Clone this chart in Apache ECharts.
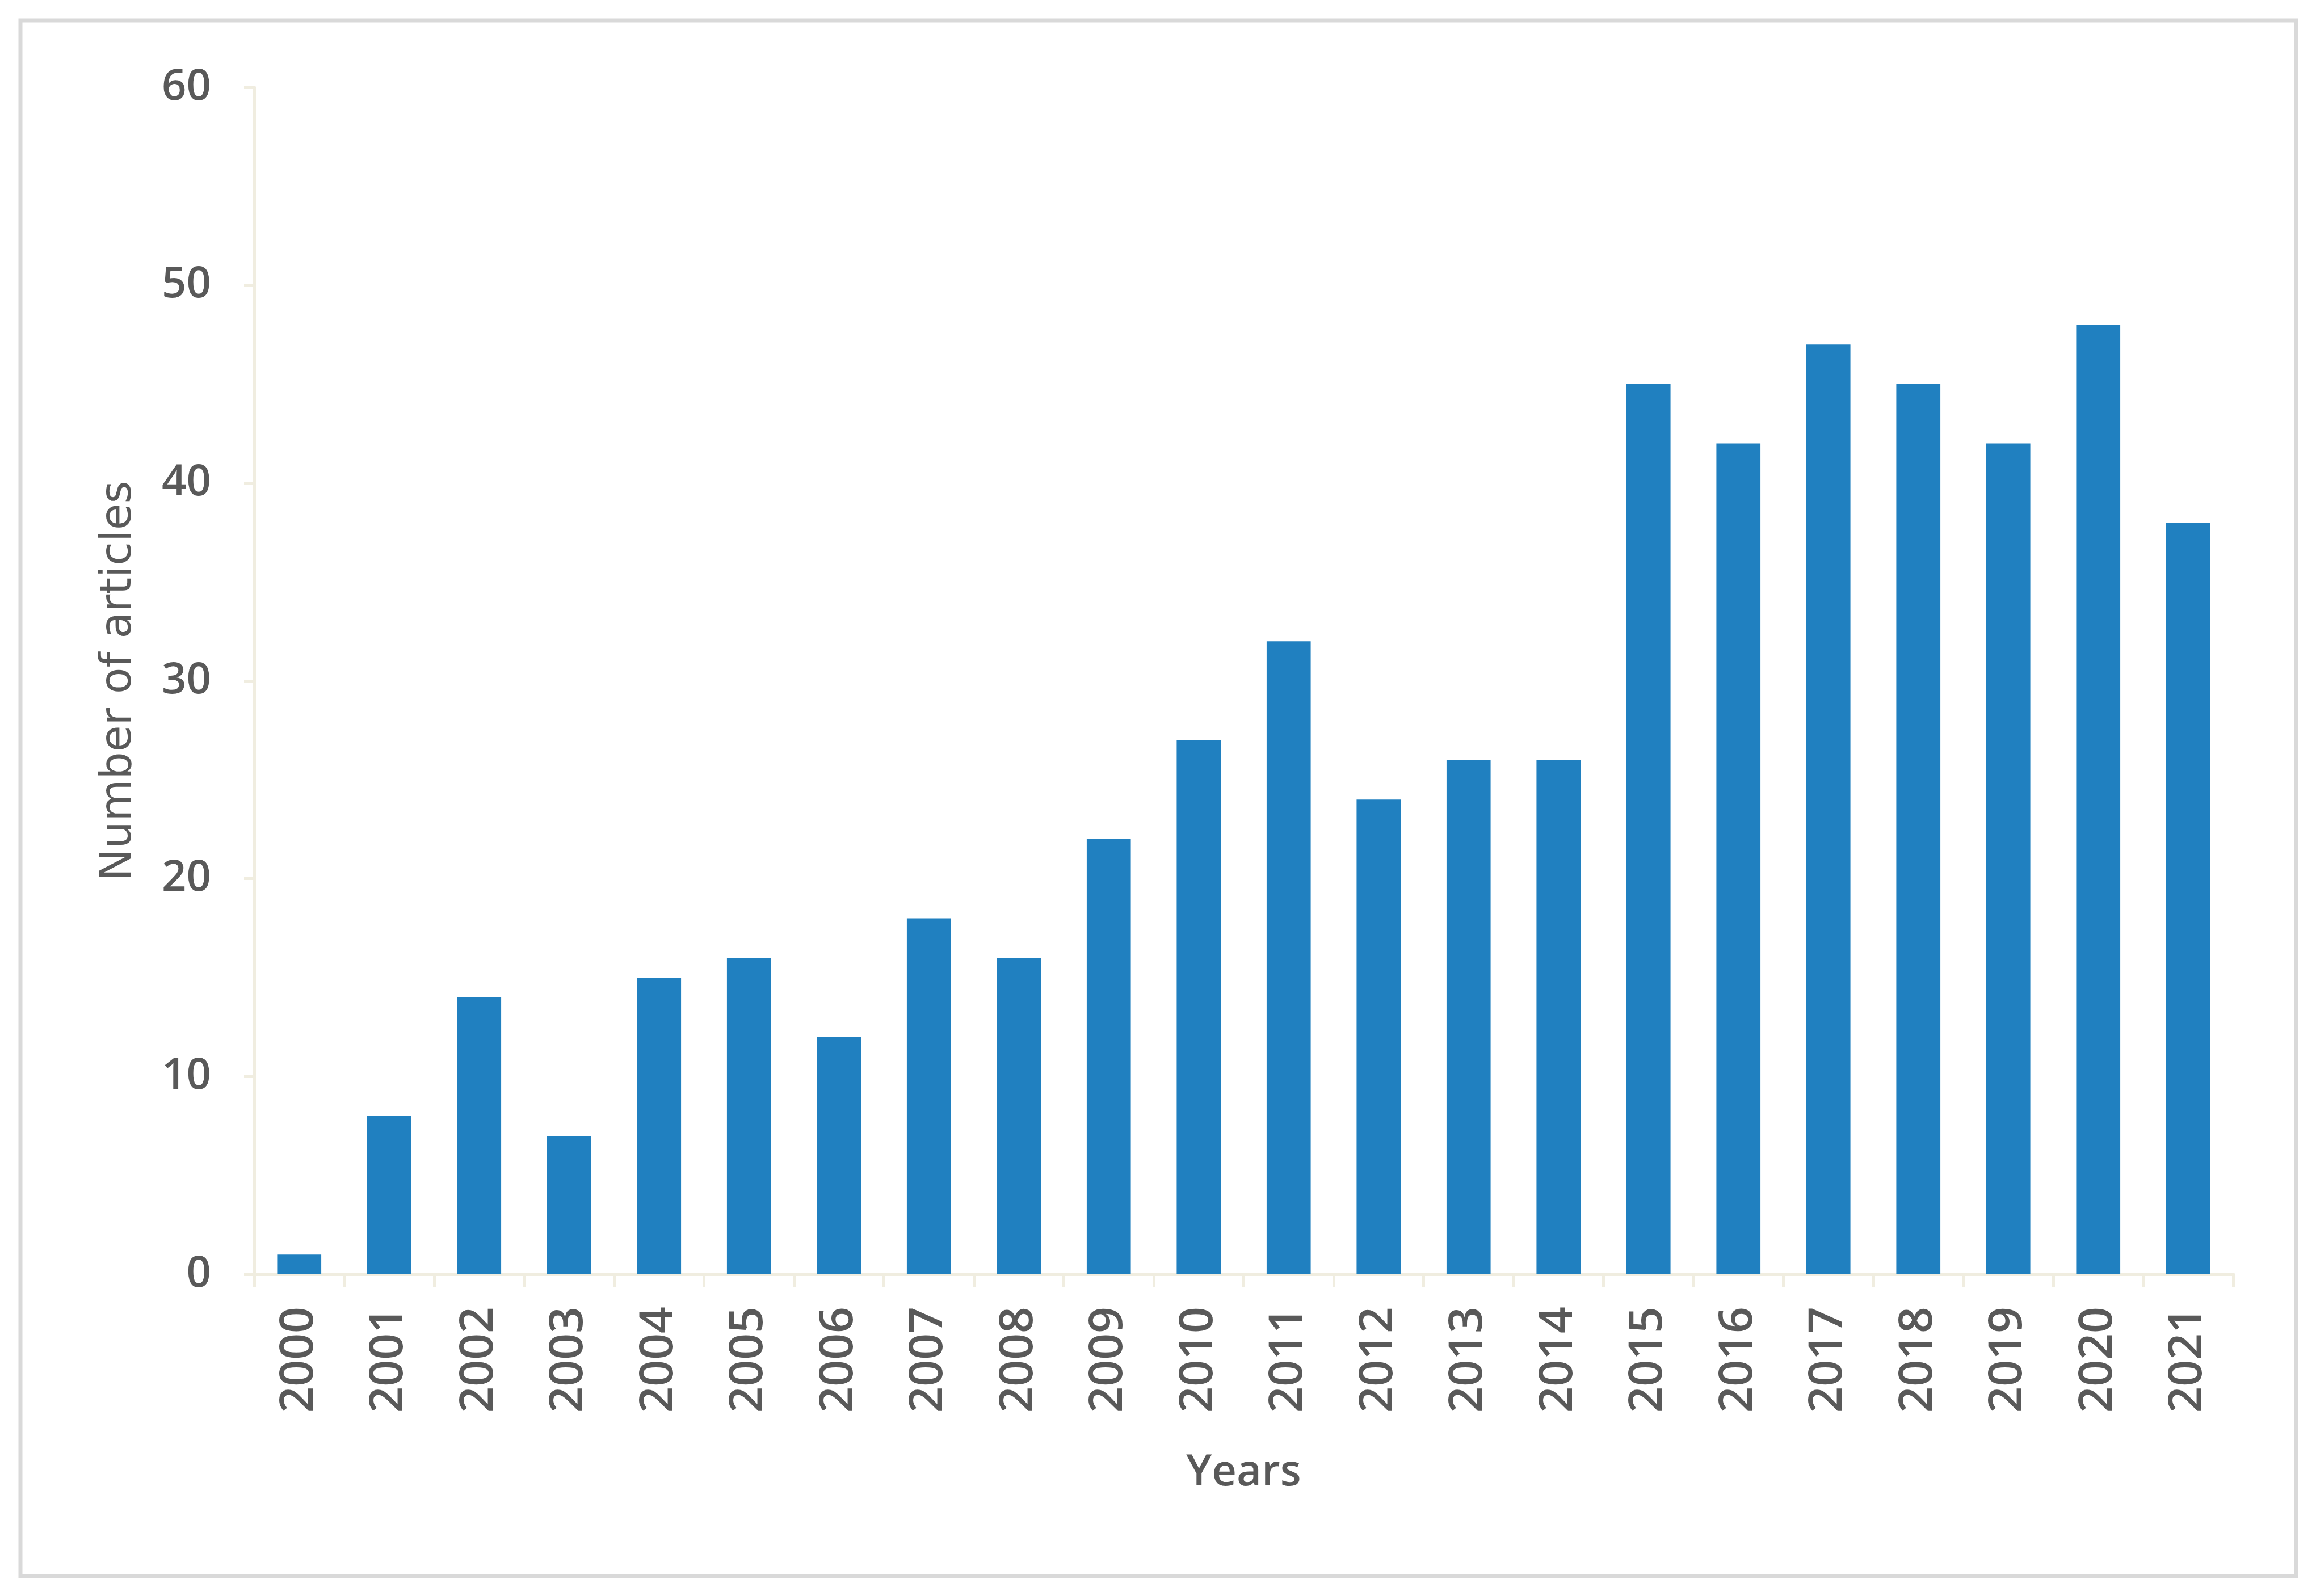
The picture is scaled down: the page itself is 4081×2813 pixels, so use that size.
<!DOCTYPE html>
<html>
<head>
<meta charset="utf-8">
<style>
html,body{margin:0;padding:0;background:#fff;}
#chart{width:4081px;height:2813px;}
</style>
<script src="https://cdn.jsdelivr.net/npm/echarts@6/dist/echarts.min.js"></script>
</head>
<body>
<div id="chart"></div>
<script>
const years = ['2000','2001','2002','2003','2004','2005','2006','2007','2008','2009','2010','2011','2012','2013','2014','2015','2016','2017','2018','2019','2020','2021'];
const articles = [1,8,14,7,15,16,12,18,16,22,27,32,24,26,26,45,42,47,45,42,48,38];
const yTicks = [0,10,20,30,40,50,60];

const chart = echarts.init(document.getElementById('chart'));
const font = '"Open Sans", "Noto Sans", sans-serif';
chart.setOption({
  animation: false,
  backgroundColor: '#ffffff',
  graphic: [{
    type: 'rect',
    shape: {x: 36, y: 36, width: 4010, height: 2742},
    style: {fill: 'none', stroke: '#d9d9d9', lineWidth: 7},
    silent: true
  }],
  grid: {left: 448, right: 146, top: 154, bottom: 567, containLabel: false},
  xAxis: {
    type: 'category',
    data: years,
    boundaryGap: true,
    name: 'Years',
    nameLocation: 'middle',
    nameGap: 312,
    nameTextStyle: {fontFamily: font, fontSize: 76, fontWeight: 600, color: '#595959'},
    axisLine: {lineStyle: {color: '#f0ede0', width: 6}},
    axisTick: {show: true, alignWithLabel: false, length: 22, lineStyle: {color: '#f0ede0', width: 5}},
    axisLabel: {rotate: 90, margin: 57, fontFamily: font, fontSize: 82, fontWeight: 600, color: '#595959'},
    splitLine: {show: false}
  },
  yAxis: {
    type: 'value',
    min: yTicks[0],
    max: yTicks[yTicks.length - 1],
    interval: 10,
    name: 'Number of articles',
    nameLocation: 'middle',
    nameGap: 200,
    nameTextStyle: {fontFamily: '"DejaVu Sans", sans-serif', fontSize: 76, fontWeight: 'normal', color: '#595959'},
    axisLine: {show: true, lineStyle: {color: '#f0ede0', width: 5}},
    axisTick: {show: true, length: 18, lineStyle: {color: '#f0ede0', width: 5}},
    axisLabel: {margin: 76, fontFamily: font, fontSize: 76, fontWeight: 600, color: '#595959'},
    splitLine: {show: false}
  },
  series: [{
    type: 'bar',
    data: articles,
    barCategoryGap: '51%',
    itemStyle: {color: '#2080c0'}
  }]
});
</script>
</body>
</html>
